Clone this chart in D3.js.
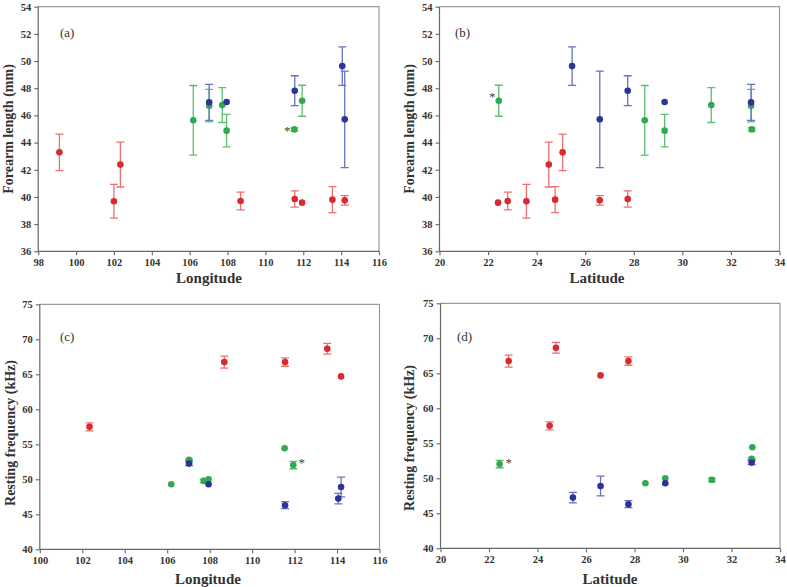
<!DOCTYPE html>
<html><head><meta charset="utf-8">
<script src="https://cdn.jsdelivr.net/npm/d3@7"></script>
<style>body{margin:0;background:#fff}svg{display:block}
svg text{font-family:"Liberation Serif","Times New Roman","DejaVu Serif",serif;}</style>
</head><body>
<svg id="c" width="787" height="587"></svg>
<script>
// ---- data ----
// group 1 (red)
const redLon      = [99.12, 102.00, 102.34, 108.69, 111.55, 111.94, 113.54, 114.19];
const redLat      = [25.07, 23.58, 24.50, 22.81, 27.75, 22.41, 24.76, 26.60];
const redForearm  = [43.28, 39.68, 42.38, 39.70, 39.85, 39.58, 39.80, 39.75];
const redForeErr  = [1.35, 1.24, 1.65, 0.65, 0.60, 0.00, 0.96, 0.35];
const redFreq     = [null, null, 57.5, 66.75, 66.75, null, 68.65, 64.7];
const redFreqErr  = [0, 0, 0.57, 0.86, 0.60, 0, 0.78, 0];
// group 2 (green)
const greenLon     = [106.19, 107.03, 107.72, 107.95, 111.53, 111.94];
const greenLat     = [28.45, 32.83, 31.19, 29.27, 32.86, 22.44];
const greenForearm = [45.64, 46.72, 46.76, 44.88, 44.97, 47.08];
const greenForeErr = [2.56, 1.20, 1.28, 1.20, 0.12, 1.14];
const greenFreq    = [49.29, 52.77, 49.77, 50.0, 54.43, 52.03];
const greenFreqErr = [0, 0.15, 0.25, 0, 0, 0.52];
// group 3 (blue)
const blueLon     = [107.03, 107.95, 111.55, 114.06, 114.19];
const blueLat     = [32.83, 29.27, 27.75, 25.46, 26.60];
const blueForearm = [46.96, 46.99, 47.82, 49.63, 45.71];
const blueForeErr = [1.33, 0, 1.10, 1.42, 3.55];
const blueFreq    = [52.24, 49.29, 46.30, 47.24, 48.90];
const blueFreqErr = [0.30, 0, 0.50, 0.74, 1.42];

const lonTicksAB = [98,100,102,104,106,108,110,112,114,116];
const lonTicksC  = [100,102,104,106,108,110,112,114,116];
const latTicks   = [20,22,24,26,28,30,32,34];
const foreTicks  = [36,38,40,42,44,46,48,50,52,54];
const freqTicks  = [40,45,50,55,60,65,70,75];

const panelLabels = ["(a)","(b)","(c)","(d)"];
const xTitles = ["Longitude","Latitude","Longitude","Latitude"];
const yTitles = ["Forearm length (mm)","Forearm length (mm)","Resting frequency (kHz)","Resting frequency (kHz)"];

// ---- build ----
function mk(lon, lat, fa, faE, fr, frE){
  return lon.map((d,i)=>({lon:d, lat:lat[i], fa:fa[i], faE:faE[i], fr:fr[i], frE:frE[i], idx:i}));
}
const groups = [
  {name:"red",   pts: mk(redLon, redLat, redForearm, redForeErr, redFreq, redFreqErr), dot:"#d92a2f", err:"#ec7070"},
  {name:"green", pts: mk(greenLon, greenLat, greenForearm, greenForeErr, greenFreq, greenFreqErr), dot:"#33a852", err:"#5cbf70"},
  {name:"blue",  pts: mk(blueLon, blueLat, blueForearm, blueForeErr, blueFreq, blueFreqErr), dot:"#2c3494", err:"#6672c2"}
];

const panels = [
  {x0:38.2, x1:379, y0:6.7, y1:251.3, xd:[98,116], yd:[36,54], xt:lonTicksAB, yt:foreTicks, xk:"lon", yk:"fa", ek:"faE",
   star:{g:"green", i:4, dx:-7, dy:0}, lab:[60,37], ytx:8, yty:129, xtt:[209,283]},
  {x0:439.5, x1:779.5, y0:6.7, y1:251.3, xd:[20,34], yd:[36,54], xt:latTicks, yt:foreTicks, xk:"lat", yk:"fa", ek:"faE",
   star:{g:"green", i:5, dx:-6.5, dy:-6}, lab:[455,37], ytx:409, yty:129, xtt:[597,283]},
  {x0:39.8, x1:379.5, y0:304.3, y1:549.3, xd:[100,116], yd:[40,75], xt:lonTicksC, yt:freqTicks, xk:"lon", yk:"fr", ek:"frE",
   star:{g:"green", i:5, dx:8.5, dy:-3.6}, lab:[60,341], ytx:10, yty:433, xtt:[208,584]},
  {x0:440.5, x1:780, y0:303.3, y1:548.3, xd:[20,34], yd:[40,75], xt:latTicks, yt:freqTicks, xk:"lat", yk:"fr", ek:"frE",
   star:{g:"green", i:5, dx:9, dy:-3.3}, lab:[457,341], ytx:409, yty:438, xtt:[610,584]}
];

const svg = d3.select("#c");
const serif = '"Liberation Serif","Times New Roman","DejaVu Serif",serif';

panels.forEach((p, pi) => {
  const x = d3.scaleLinear().domain(p.xd).range([p.x0, p.x1]);
  const y = d3.scaleLinear().domain(p.yd).range([p.y1, p.y0]);
  const g = svg.append("g");

  // frame (top & right)
  g.append("path").attr("d", `M${p.x0},${p.y0}H${p.x1}V${p.y1}`)
    .attr("fill","none").attr("stroke","#9a9a9a").attr("stroke-width",1.2);

  const yAxis = d3.axisLeft(y).tickValues(p.yt).tickSize(4).tickPadding(3).tickFormat(d3.format("d"));
  const xAxis = d3.axisBottom(x).tickValues(p.xt).tickSize(4).tickPadding(3).tickFormat(d3.format("d"));
  const ya = g.append("g").attr("transform",`translate(${p.x0},0)`).call(yAxis);
  const xa = g.append("g").attr("transform",`translate(0,${p.y1})`).call(xAxis);
  [ya, xa].forEach(a => {
    a.attr("font-family", null);
    a.select(".domain").attr("stroke","#666").attr("stroke-width",1.2);
    a.selectAll(".tick line").attr("stroke","#666").attr("stroke-width",1.1);
    a.selectAll(".tick text").attr("fill","#333").style("font-family",serif)
      .attr("font-weight","bold").attr("font-size",10.5);
  });
  xa.select(".domain").attr("d", `M${p.x0},0H${p.x1}`);
  ya.select(".domain").attr("d", `M0,${p.y1}V${p.y0}`);

  // titles
  g.append("text").attr("x",p.xtt[0]).attr("y",p.xtt[1]).attr("text-anchor","middle")
    .style("font-family",serif).attr("font-weight","bold").attr("font-size",15).attr("fill","#333")
    .text(xTitles[pi]);
  g.append("text").attr("transform",`translate(${p.ytx},${p.yty}) rotate(-90)`)
    .attr("text-anchor","middle").attr("dominant-baseline","central")
    .style("font-family",serif).attr("font-weight","bold").attr("font-size",14).attr("fill","#333")
    .text(yTitles[pi]);
  g.append("text").attr("x",p.lab[0]).attr("y",p.lab[1])
    .style("font-family",serif).attr("font-size",13).attr("fill","#333").text(panelLabels[pi]);

  // data
  groups.forEach(gr => {
    const pts = gr.pts.filter(d => d[p.yk] !== null && d[p.yk] !== undefined);
    const eb = pts.filter(d => d[p.ek] > 0);
    const eg = g.append("g").attr("stroke", gr.err).attr("stroke-width",1.3).attr("fill","none");
    eg.selectAll("path").data(eb).join("path")
      .attr("d", d => {
        const cx = x(d[p.xk]), t = y(d[p.yk] + d[p.ek]), b = y(d[p.yk] - d[p.ek]);
        return `M${cx},${t}V${b}M${cx-4},${t}H${cx+4}M${cx-4},${b}H${cx+4}`;
      });
    g.append("g").selectAll("circle").data(pts).join("circle")
      .attr("cx", d => x(d[p.xk])).attr("cy", d => y(d[p.yk]))
      .attr("r", 3.3).attr("fill", gr.dot);
  });

  // asterisk
  const sg = groups.find(gr => gr.name === p.star.g).pts[p.star.i];
  g.append("text").attr("x", x(sg[p.xk]) + p.star.dx).attr("y", y(sg[p.yk]) + p.star.dy + 6)
    .attr("text-anchor","middle").style("font-family",serif).attr("font-size",13).attr("fill","#444").text("*");
});
</script>
</body></html>
